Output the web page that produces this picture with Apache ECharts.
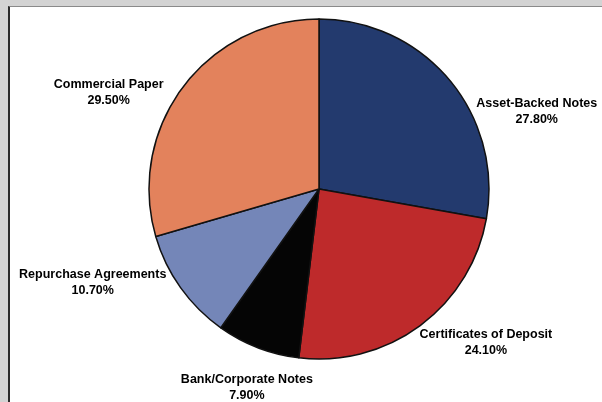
<!DOCTYPE html>
<html>
<head>
<meta charset="utf-8">
<script src="https://cdn.jsdelivr.net/npm/echarts@6/dist/echarts.min.js"></script>
<style>
  html, body { margin: 0; padding: 0; background: #d3d3d3; }
  #wrap { position: relative; width: 602px; height: 402px; overflow: hidden; background: #d3d3d3; }
  #panel { position: absolute; left: 8px; top: 6px; width: 592px; height: 400px;
           background: #ffffff; border-left: 2px solid #2a2a2a; border-top: 1px solid #8a8a8a; }
  #chart { position: absolute; left: 0; top: 0; width: 602px; height: 402px; }
</style>
</head>
<body>
<div id="wrap">
  <div id="panel"></div>
  <div id="chart"></div>
</div>
<script>
// Portfolio composition by security type (percent of total)
const categories = [
  'Asset-Backed Notes',
  'Certificates of Deposit',
  'Bank/Corporate Notes',
  'Repurchase Agreements',
  'Commercial Paper'
];
const shares = [27.8, 24.1, 7.9, 10.7, 29.5];
const sliceColors = ['#233a6e', '#be2a2b', '#050505', '#7486b8', '#e3825c'];

// hand nudges for the outside labels, in pixels [dx, dy]
const labelNudge = [[-14, 50], [-31, -6], [79, 14], [15, -21], [28, 22]];

const chart = echarts.init(document.getElementById('chart'), null, { renderer: 'canvas' });

chart.setOption({
  animation: false,
  backgroundColor: 'transparent',
  series: [{
    type: 'pie',
    center: [319, 189],
    radius: 170,
    startAngle: 90,
    clockwise: true,
    avoidLabelOverlap: false,
    itemStyle: { borderColor: '#111111', borderWidth: 1.5 },
    label: {
      show: true,
      position: 'outside',
      formatter: p => '{t|' + p.name + '}\n{t|' + p.value.toFixed(2) + '%}',
      rich: {
        t: {
          fontFamily: 'Liberation Sans, Arial, sans-serif',
          fontWeight: 'bold',
          fontSize: 12.5,
          lineHeight: 16,
          color: '#000000',
          width: 150,
          align: 'center'
        }
      }
    },
    labelLine: { show: false, length: 28, length2: 0 },
    labelLayout: p => ({ dx: labelNudge[p.dataIndex][0], dy: labelNudge[p.dataIndex][1] }),
    emphasis: { disabled: true },
    data: categories.map((name, i) => ({
      name: name,
      value: shares[i],
      itemStyle: { color: sliceColors[i] }
    }))
  }]
});
</script>
</body>
</html>
